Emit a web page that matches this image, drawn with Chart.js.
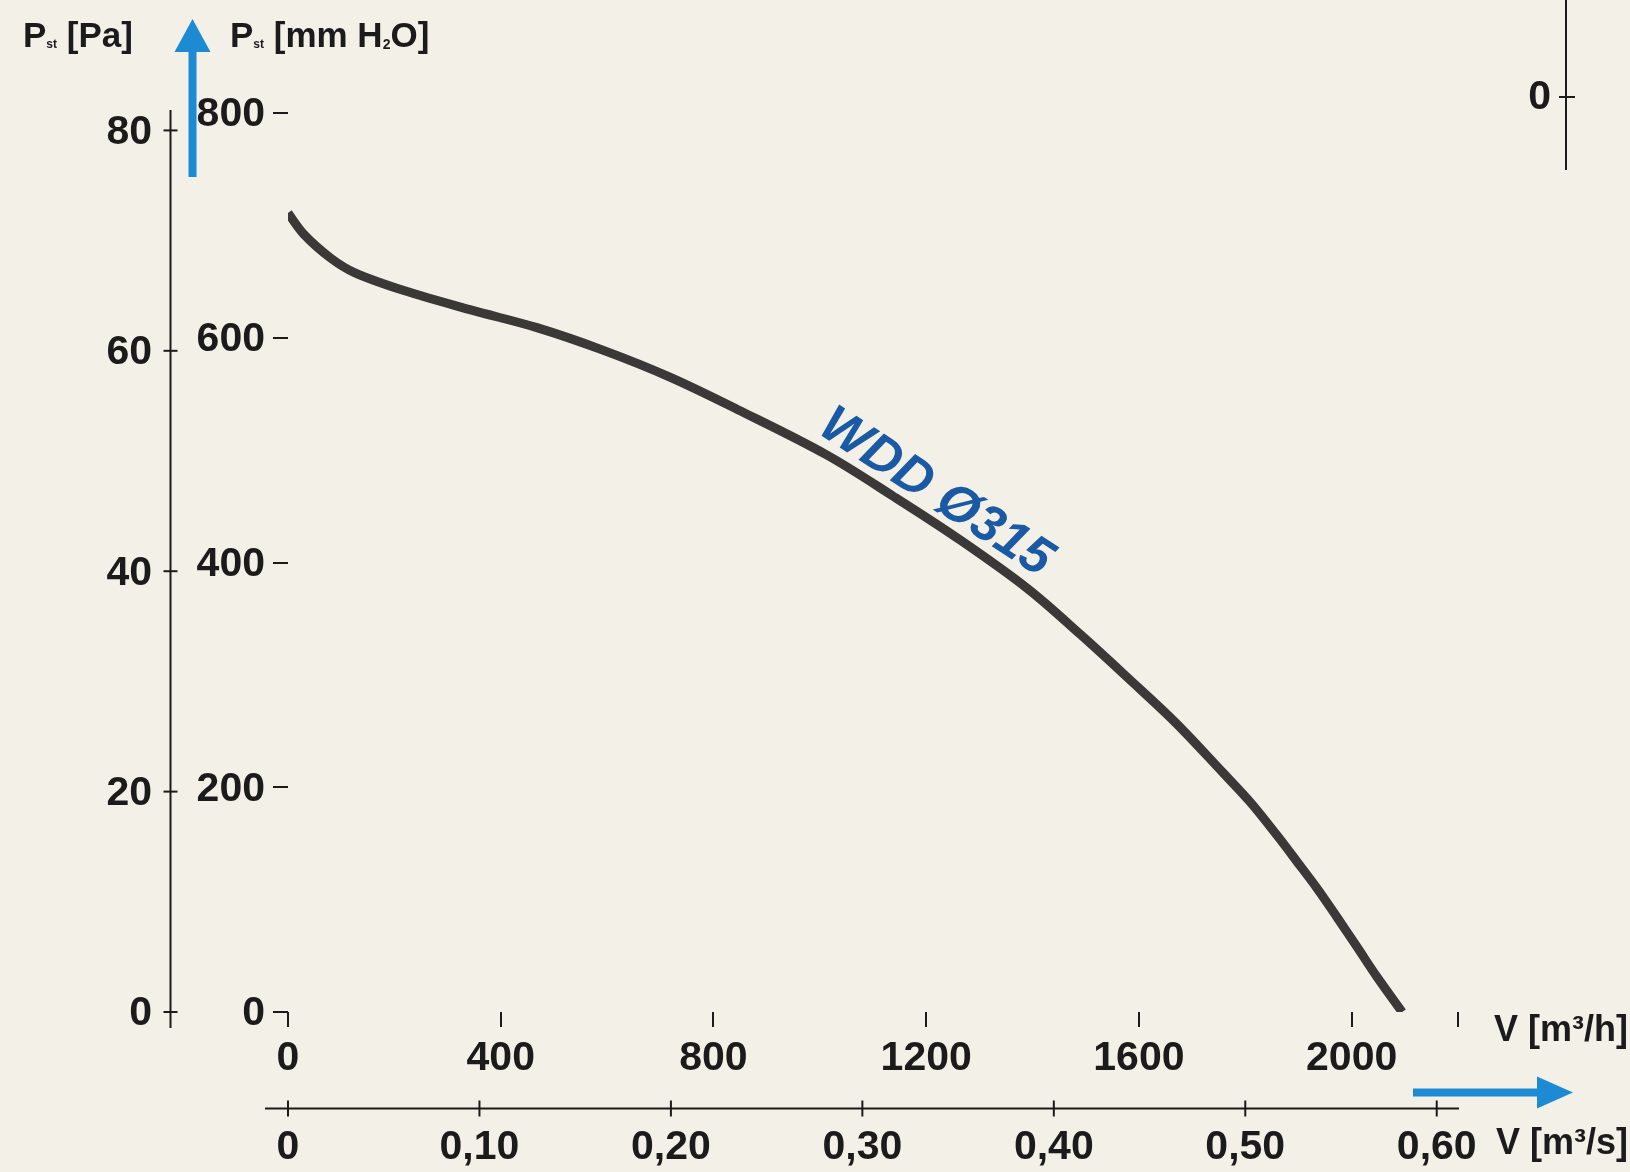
<!DOCTYPE html>
<html>
<head>
<meta charset="utf-8">
<title>WDD Ø315</title>
<script src="https://cdn.jsdelivr.net/npm/chart.js@4.4.1/dist/chart.umd.min.js"></script>
<style>
  html, body { margin: 0; padding: 0; background: #f3f0e8; }
  #wrap { width: 1630px; height: 1172px; }
</style>
</head>
<body>
<div id="wrap"><canvas id="fanChart"></canvas></div>
<script>
// Fan curve WDD Ø315 - static pressure against air flow
const curveName = 'WDD Ø315';
const flowM3h = [0, 30, 80, 125, 218, 342, 468, 592, 718, 846, 1012, 1138, 1264, 1390, 1490, 1580, 1670, 1758, 1809, 1860, 1897, 1935, 1973, 2010, 2048, 2095];
const pressurePa = [711, 692, 671, 658, 642, 625, 609, 589, 565, 536, 496, 459, 420, 377, 336, 297, 257, 213, 187, 157, 134, 110, 84, 58, 31, 0];

// Tick values and labels
const flowTicksM3h = [0, 400, 800, 1200, 1600, 2000, 2200];
const flowLabelsM3h = ['0', '400', '800', '1200', '1600', '2000', ''];
const flowTicksM3s = [0, 0.1, 0.2, 0.3, 0.4, 0.5, 0.6];
const flowLabelsM3s = ['0', '0,10', '0,20', '0,30', '0,40', '0,50', '0,60'];
const pressureTicksPa = [0, 200, 400, 600, 800];
const pressureTicksMm = [0, 20, 40, 60, 80];

const PA_PER_MM = 9.80665;
const FLOW_MAX = 2200;
const PA_MAX = 802.7;

const INK = '#1b1b1b';
const ARROW_BLUE = '#1d8bd3';
const LABEL_BLUE = '#1a5aa5';
const FONT = '"Liberation Sans", Arial, Helvetica, sans-serif';

Chart.defaults.font.family = FONT;
Chart.defaults.font.size = 41;
Chart.defaults.font.weight = 'bold';
Chart.defaults.color = INK;

function line(ctx, x1, y1, x2, y2) {
    ctx.beginPath();
    ctx.moveTo(x1, y1);
    ctx.lineTo(x2, y2);
    ctx.stroke();
}

// Draw a sequence of text runs (for subscripts like P_st, H_2O)
function drawRuns(ctx, x, y, runs) {
    runs.forEach(run => {
        ctx.font = 'bold ' + run.size + 'px ' + FONT;
        ctx.fillText(run.t, x, y + (run.dy || 0));
        x += ctx.measureText(run.t).width;
    });
}

function upArrow(ctx, x, yTop, yBottom) {
    ctx.fillRect(x - 4, yTop + 30, 8, yBottom - yTop - 30);
    ctx.beginPath();
    ctx.moveTo(x, yTop);
    ctx.lineTo(x + 18, yTop + 33);
    ctx.lineTo(x - 18, yTop + 33);
    ctx.closePath();
    ctx.fill();
}

function rightArrow(ctx, xLeft, xRight, y) {
    ctx.fillRect(xLeft, y - 4, xRight - xLeft - 33, 8);
    ctx.beginPath();
    ctx.moveTo(xRight, y);
    ctx.lineTo(xRight - 36, y - 16);
    ctx.lineTo(xRight - 36, y + 16);
    ctx.closePath();
    ctx.fill();
}

const decorations = {
    id: 'decorations',
    beforeDraw(chart) {
        const ctx = chart.ctx;
        ctx.save();
        ctx.fillStyle = '#f3f0e8';
        ctx.fillRect(0, 0, chart.width, chart.height);
        ctx.restore();
    },
    afterDraw(chart) {
        const { ctx, chartArea, scales } = chart;
        ctx.save();
        ctx.strokeStyle = INK;
        ctx.fillStyle = INK;
        ctx.lineWidth = 2;

        // mm H2O axis line with cross ticks
        const yMm = scales.yMm;
        const axX = Math.round(yMm.right) + 0.5;
        line(ctx, axX, chartArea.top, axX, chartArea.bottom + 16);
        pressureTicksMm.forEach(v => {
            const y = yMm.getPixelForValue(v);
            line(ctx, axX - 7, y, axX + 7, y);
        });

        // m3/s axis line with cross ticks
        const xS = scales.xS;
        const axY = Math.round(xS.top) + 0.5;
        line(ctx, chartArea.left - 23, axY, chartArea.right + 1, axY);
        flowTicksM3s.forEach(v => {
            const x = xS.getPixelForValue(v);
            line(ctx, x, axY - 8, x, axY + 8);
        });

        // unit labels
        ctx.textBaseline = 'alphabetic';
        ctx.textAlign = 'left';
        drawRuns(ctx, 23, 47, [{ t: 'P', size: 35 }, { t: 'st', size: 12, dy: 1 }, { t: ' [Pa]', size: 35 }]);
        drawRuns(ctx, 230, 47, [{ t: 'P', size: 35 }, { t: 'st', size: 12, dy: 1 }, { t: ' [mm H', size: 35 },
            { t: '2', size: 14, dy: 2 }, { t: 'O]', size: 35 }]);

        ctx.textAlign = 'right';
        ctx.textBaseline = 'middle';
        ctx.font = 'bold 36px ' + FONT;
        ctx.fillText('V [m³/h]', 1628, 1031);
        ctx.fillText('V [m³/s]', 1628, 1144);

        // fragment of the neighbouring diagram, top right
        line(ctx, 1566, 0, 1566, 170);
        line(ctx, 1559, 97, 1575, 97);
        ctx.font = 'bold 41px ' + FONT;
        ctx.fillText('0', 1551, 98);

        // blue direction arrows
        ctx.fillStyle = ARROW_BLUE;
        upArrow(ctx, axX + 22, 19, 177);
        rightArrow(ctx, chartArea.right - 45, chartArea.right + 115, axY - 16);

        // curve name along the line
        const lx = scales.x.getPixelForValue(1218);
        const ly = scales.y.getPixelForValue(462);
        ctx.translate(lx, ly);
        ctx.rotate(33 * Math.PI / 180);
        ctx.fillStyle = LABEL_BLUE;
        ctx.textAlign = 'center';
        ctx.textBaseline = 'middle';
        ctx.font = 'italic bold 52px ' + FONT;
        ctx.fillText(curveName, 0, 0);
        ctx.restore();
    }
};

const tickGrid = {
    display: true,
    drawOnChartArea: false,
    drawTicks: true,
    tickLength: 15,
    color: INK,
    lineWidth: 2
};

new Chart(document.getElementById('fanChart'), {
    type: 'line',
    data: {
        datasets: [{
            label: curveName,
            data: flowM3h.map((q, i) => ({ x: q, y: pressurePa[i] })),
            borderColor: '#3b3938',
            borderWidth: 9,
            borderCapStyle: 'butt',
            pointRadius: 0,
            tension: 0.35,
            fill: false
        }]
    },
    options: {
        responsive: true,
        maintainAspectRatio: false,
        animation: false,
        layout: { padding: { left: 0, top: 110, right: 172, bottom: 0 } },
        plugins: {
            legend: { display: false },
            tooltip: { enabled: false }
        },
        scales: {
            x: {
                type: 'linear',
                position: 'bottom',
                weight: 0,
                min: 0,
                max: FLOW_MAX,
                grid: tickGrid,
                border: { display: false },
                afterBuildTicks: scale => { scale.ticks = flowTicksM3h.map(v => ({ value: v })); },
                afterFit: scale => { scale.height = 96; },
                ticks: {
                    autoSkip: false,
                    maxRotation: 0,
                    padding: 7,
                    callback: (value, index) => flowLabelsM3h[index]
                }
            },
            xS: {
                type: 'linear',
                position: 'bottom',
                weight: 1,
                min: 0,
                max: FLOW_MAX / 3600,
                grid: { display: false },
                border: { display: false },
                afterBuildTicks: scale => { scale.ticks = flowTicksM3s.map(v => ({ value: v })); },
                afterFit: scale => { scale.height = 64; },
                ticks: {
                    autoSkip: false,
                    maxRotation: 0,
                    padding: 7,
                    callback: (value, index) => flowLabelsM3s[index]
                }
            },
            y: {
                type: 'linear',
                position: 'left',
                weight: 0,
                min: 0,
                max: PA_MAX,
                grid: tickGrid,
                border: { display: false },
                afterBuildTicks: scale => { scale.ticks = pressureTicksPa.map(v => ({ value: v })); },
                afterFit: scale => { scale.width = 118; },
                ticks: { padding: 8, labelOffset: 2, callback: value => String(value) }
            },
            yMm: {
                type: 'linear',
                position: 'left',
                weight: 1,
                min: 0,
                max: PA_MAX / PA_PER_MM,
                grid: { display: false },
                border: { display: false },
                afterBuildTicks: scale => { scale.ticks = pressureTicksMm.map(v => ({ value: v })); },
                afterFit: scale => { scale.width = 170; },
                ticks: { padding: 10, labelOffset: 2, callback: value => String(value) }
            }
        }
    },
    plugins: [decorations]
});
</script>
</body>
</html>
